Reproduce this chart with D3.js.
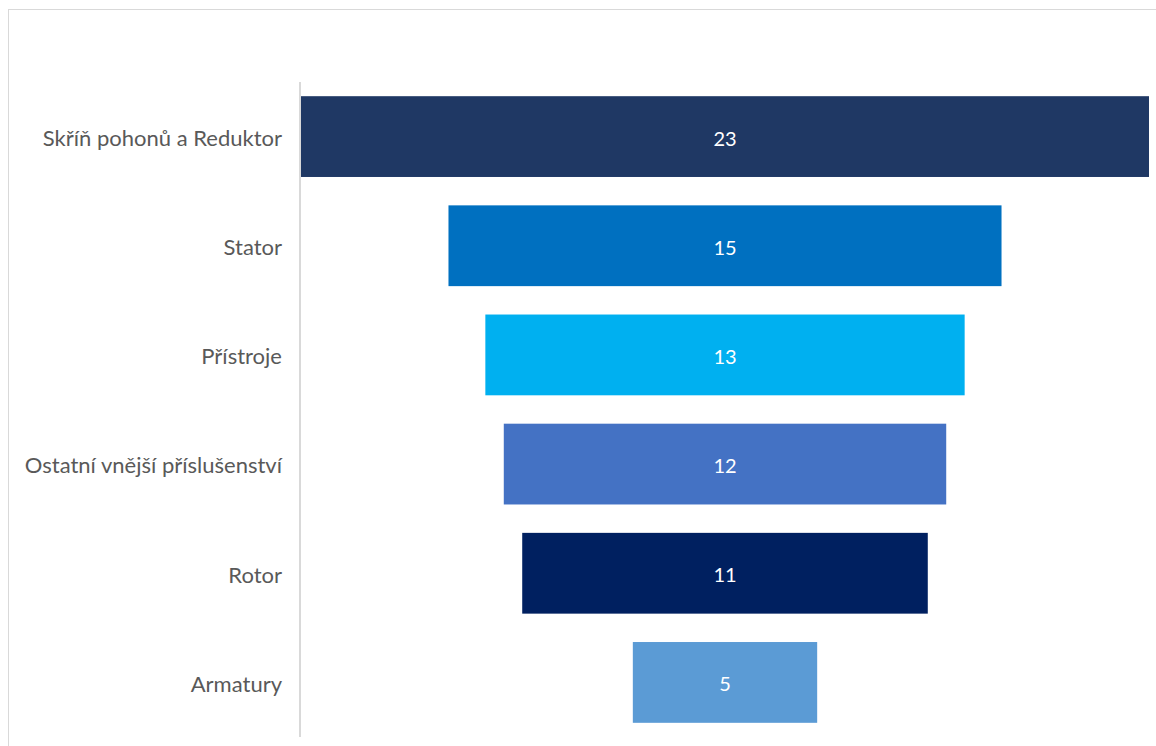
<!DOCTYPE html>
<html>
<head>
<meta charset="utf-8">
<script src="https://cdn.jsdelivr.net/npm/d3@7"></script>
<style>
  html, body { margin: 0; padding: 0; background: #ffffff; }
  svg { display: block; }
</style>
</head>
<body>
<svg id="chart" width="1156" height="746"></svg>
<script>
// Funnel stages, top to bottom
const categories = [
  "Skříň pohonů a Reduktor",
  "Stator",
  "Přístroje",
  "Ostatní vnější příslušenství",
  "Rotor",
  "Armatury"
];
const values = [23, 15, 13, 12, 11, 5];
const colors = ["#1f3864", "#0070c0", "#00b0f0", "#4472c4", "#002060", "#5b9bd5"];

const svg = d3.select("#chart");
const W = 1156, H = 746;
const font = "Lato, 'Open Sans', sans-serif";

// chart area frame
svg.append("rect")
  .attr("x", 8.5).attr("y", 9.5)
  .attr("width", W).attr("height", H)
  .attr("fill", "#ffffff")
  .attr("stroke", "#d9d9d9")
  .attr("stroke-width", 1);

const plotLeft = 301, plotRight = 1149, plotTop = 82, plotBottom = 737;
const centerX = (plotLeft + plotRight) / 2;

const y = d3.scaleBand()
  .domain(categories)
  .range([plotTop, plotBottom])
  .paddingInner(0.26)
  .paddingOuter(0.13);

const x = d3.scaleLinear()
  .domain([0, d3.max(values)])
  .range([0, plotRight - plotLeft]);

const data = categories.map((c, i) => ({ cat: c, value: values[i], color: colors[i] }));

// bars centered on the plot midline
svg.append("g").selectAll("rect")
  .data(data)
  .join("rect")
  .attr("x", d => centerX - x(d.value) / 2)
  .attr("y", d => y(d.cat))
  .attr("width", d => x(d.value))
  .attr("height", y.bandwidth())
  .attr("fill", d => d.color);

// value labels
svg.append("g").selectAll("text")
  .data(data)
  .join("text")
  .attr("x", centerX)
  .attr("y", d => y(d.cat) + y.bandwidth() / 2 + 1)
  .attr("text-anchor", "middle")
  .attr("dominant-baseline", "central")
  .attr("fill", "#ffffff")
  .attr("font-family", font)
  .attr("font-size", 20)
  .text(d => d.value);

// category axis
const axis = d3.axisLeft(y).tickSize(0).tickPadding(18);
const gAxis = svg.append("g")
  .attr("transform", `translate(${plotLeft - 1},0)`)
  .call(axis);
gAxis.select(".domain")
  .attr("d", `M0,${plotTop}V${plotBottom}`)
  .attr("stroke", "#d9d9d9")
  .attr("stroke-width", 2);
gAxis.selectAll(".tick text")
  .attr("fill", "#595959")
  .attr("font-family", font)
  .attr("font-size", 22)
  .attr("dy", "0.42em");
</script>
</body>
</html>
